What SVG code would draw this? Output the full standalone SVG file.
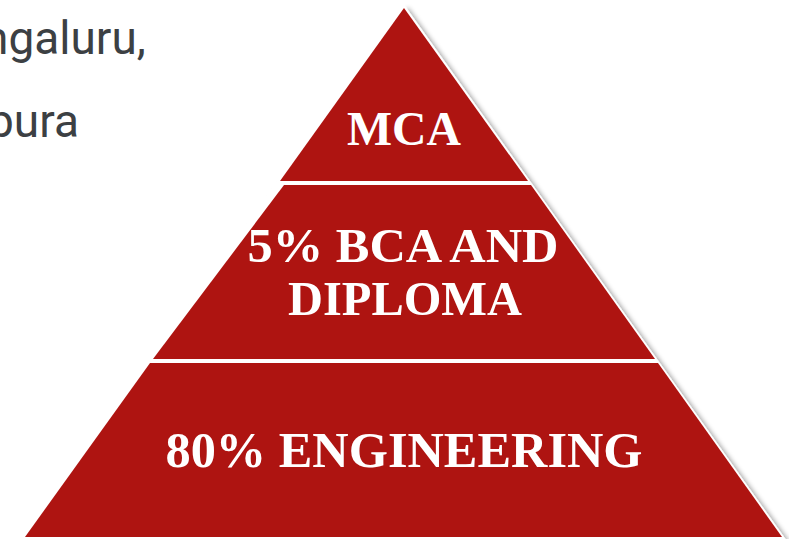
<svg xmlns="http://www.w3.org/2000/svg" width="789" height="539" viewBox="0 0 789 539">
  <defs>
    <filter id="shadow" x="-10%" y="-10%" width="130%" height="130%">
      <feGaussianBlur in="SourceAlpha" stdDeviation="2.5"/>
      <feOffset dx="4" dy="3" result="b"/>
      <feComponentTransfer><feFuncA type="linear" slope="0.35"/></feComponentTransfer>
      <feMerge><feMergeNode/><feMergeNode in="SourceGraphic"/></feMerge>
    </filter>
  </defs>
  <style>
    .tier { fill: #ae1411; }
    .lbl { fill: #ffffff; font-family: "Liberation Serif", "Times New Roman", serif; font-weight: bold; text-anchor: middle; }
    .side { fill: #3c4043; font-family: Roboto, "Liberation Sans", sans-serif; font-size: 46px; }
  </style>
  <rect width="789" height="539" fill="#ffffff"/>
  <text class="side" x="-17" y="54">ngaluru,</text>
  <text class="side" x="-12" y="137">pura</text>
  <polygon points="404,7 783,538 24,538" fill="#ffffff" stroke="#ffffff" stroke-width="3" filter="url(#shadow)"/>
  <g id="tier-mca">
    <polygon class="tier" points="404,8 528,181 280,181"/>
    <text class="lbl" x="404" y="145" font-size="48" textLength="114" lengthAdjust="spacingAndGlyphs">MCA</text>
  </g>
  <g id="tier-bca">
    <polygon class="tier" points="284,185 531,185 655,359 153,359"/>
    <text class="lbl" x="403" y="262" font-size="48" textLength="311" lengthAdjust="spacingAndGlyphs">5% BCA AND</text>
    <text class="lbl" x="405" y="315" font-size="48" textLength="234" lengthAdjust="spacingAndGlyphs">DIPLOMA</text>
  </g>
  <g id="tier-eng">
    <polygon class="tier" points="150,363 658,363 782,537 25,537"/>
    <text class="lbl" x="404" y="467" font-size="50" textLength="477" lengthAdjust="spacingAndGlyphs">80% ENGINEERING</text>
  </g>
</svg>
